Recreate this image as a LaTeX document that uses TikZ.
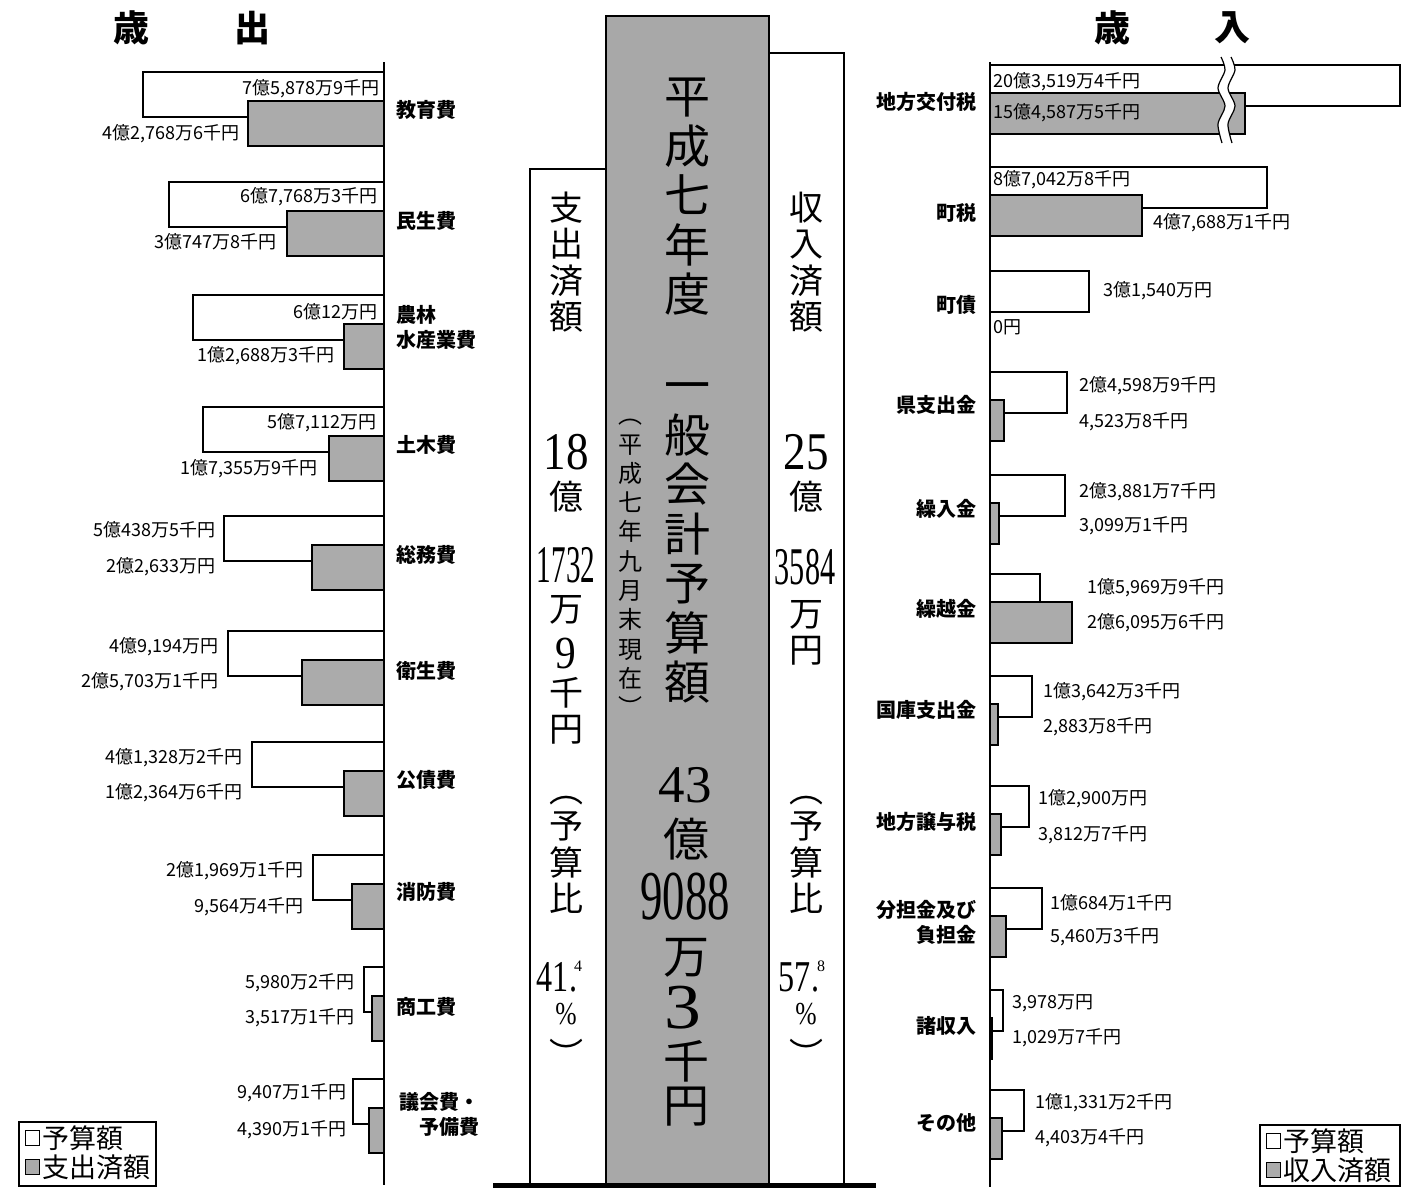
\documentclass[tikz,border=0pt]{standalone}
\usepackage{fontspec}
\newfontfamily\jp{Noto Sans CJK JP}
\newfontfamily\numfont{Liberation Serif}
\definecolor{bargray}{gray}{0.67}
\definecolor{colgray}{gray}{0.66}

\newcommand{\jpfs}[1]{\jp\fontsize{#1}{#1}\selectfont}
\newcommand{\nmfs}[1]{\numfont\fontsize{#1}{#1}\selectfont}

\tikzset{
  budget/.style={draw=black, fill=white, line width=1.6pt},
  spent/.style={draw=black, fill=bargray, line width=1.6pt},
  axisline/.style={line width=1.6pt},
  val/.style={font=\jpfs{18}, inner sep=0pt},
  cat/.style={font=\jp\bfseries\fontsize{20}{25}\selectfont, inner sep=0pt},
  bigcol/.style={font=\jp\fontsize{46}{49.5}\selectfont, inner sep=0pt, align=center},
  midcol/.style={font=\jp\fontsize{34}{36.5}\selectfont, inner sep=0pt, align=center},
  notecol/.style={font=\jp\fontsize{24}{29.3}\selectfont, inner sep=0pt, align=center},
  numtxt/.style={inner sep=0pt},
  legtext/.style={font=\jpfs{27}, inner sep=0pt, anchor=west},
}

\begin{document}
\begin{tikzpicture}[x=1pt, y=-1pt]
\useasboundingbox (0,0) rectangle (1412,1187);

% Titles
\node[font=\jp\bfseries\fontsize{36}{36}\selectfont] (outA) at (131,28) {歳};
\node[font=\jp\bfseries\fontsize{36}{36}\selectfont] (outB) at (252,28) {出};
\node[font=\jp\bfseries\fontsize{36}{36}\selectfont] (inA) at (1112,28) {歳};
\node[font=\jp\bfseries\fontsize{36}{36}\selectfont] (inB) at (1232,28) {入};

% Centre column
\draw[fill=colgray, line width=1.6pt] (606,16) rectangle (769,1185);
\draw[line width=1.6pt] (606,169) -- (530,169) -- (530,1185);
\draw[line width=1.6pt] (769,53) -- (844,53) -- (844,1185);
\draw[line width=5pt] (493,1185) -- (876,1185);

% Axes
\draw[axisline] (384,62) -- (384,1185);
\draw[axisline] (990,62) -- (990,1187);

% Expenditure bars (budget left edge / top / spent left edge)
\foreach \wl/\t/\gl in {143/72/248, 169/182/287, 193/295/344, 203/407/329,
  224/516/312, 228/631/302, 252/742/344, 313/855/352, 364/967/372, 353/1079/369} {
  \draw[budget] (\wl,\t) rectangle (384,\t+45);
  \draw[spent] (\gl,\t+29) rectangle (384,\t+74);
}

% Revenue bars (budget right edge / top / received right edge)
\foreach \wr/\t/\gr in {1400/65/1245, 1267/167/1142, 1089/271/990, 1067/372/1004,
  1065/475/999, 1040/574/1072, 1032/676/998, 1029/786/1001, 1042/888/1006,
  1003/990/992, 1024/1090/1002} {
  \draw[budget] (990,\t) rectangle (\wr,\t+41);
  \draw[spent] (990,\t+28) rectangle (\gr,\t+69);
}

% Break mark on the first revenue bar
\fill[white] plot[smooth] coordinates {(1221,57) (1225,70) (1218,88) (1225,106) (1218,124) (1222,143)}
  -- plot[smooth] coordinates {(1232,143) (1228,124) (1235,106) (1228,88) (1235,70) (1231,57)} -- cycle;
\draw[line width=1.2pt] plot[smooth] coordinates {(1221,57) (1225,70) (1218,88) (1225,106) (1218,124) (1222,143)};
\draw[line width=1.2pt] plot[smooth] coordinates {(1231,57) (1235,70) (1228,88) (1235,106) (1228,124) (1232,143)};

% Expenditure values
\node[val, anchor=east] (eB1) at (380,89) {7億5,878万9千円};
\node[val, anchor=east] (eS1) at (240,134) {4億2,768万6千円};
\node[val, anchor=east] (eB2) at (378,197) {6億7,768万3千円};
\node[val, anchor=east] (eS2) at (277,242) {3億747万8千円};
\node[val, anchor=east] (eB3) at (378,312) {6億12万円};
\node[val, anchor=east] (eS3) at (335,356) {1億2,688万3千円};
\node[val, anchor=east] (eB4) at (377,423) {5億7,112万円};
\node[val, anchor=east] (eS4) at (318,469) {1億7,355万9千円};
\node[val, anchor=east] (eB5) at (216,530) {5億438万5千円};
\node[val, anchor=east] (eS5) at (216,567) {2億2,633万円};
\node[val, anchor=east] (eB6) at (219,647) {4億9,194万円};
\node[val, anchor=east] (eS6) at (219,682) {2億5,703万1千円};
\node[val, anchor=east] (eB7) at (243,758) {4億1,328万2千円};
\node[val, anchor=east] (eS7) at (243,793) {1億2,364万6千円};
\node[val, anchor=east] (eB8) at (304,871) {2億1,969万1千円};
\node[val, anchor=east] (eS8) at (304,907) {9,564万4千円};
\node[val, anchor=east] (eB9) at (355,983) {5,980万2千円};
\node[val, anchor=east] (eS9) at (355,1018) {3,517万1千円};
\node[val, anchor=east] (eB10) at (347,1093) {9,407万1千円};
\node[val, anchor=east] (eS10) at (347,1130) {4,390万1千円};

% Expenditure items
\node[cat, anchor=west] (edu) at (396,110) {教育費};
\node[cat, anchor=west] (wel) at (396,221) {民生費};
\node[cat, anchor=west, align=left] (agr) at (396,327) {農林\\水産業費};
\node[cat, anchor=west] (civ) at (396,445) {土木費};
\node[cat, anchor=west] (gen) at (396,555) {総務費};
\node[cat, anchor=west] (hyg) at (396,671) {衛生費};
\node[cat, anchor=west] (debt) at (396,780) {公債費};
\node[cat, anchor=west] (fire) at (396,892) {消防費};
\node[cat, anchor=west] (com) at (396,1007) {商工費};
\node[cat, anchor=east, align=right] (asm) at (480,1114) {議会費・\\予備費};

% Revenue values
\node[val, anchor=west] (iB1) at (993,82) {20億3,519万4千円};
\node[val, anchor=west] (iS1) at (993,113) {15億4,587万5千円};
\node[val, anchor=west] (iB2) at (993,180) {8億7,042万8千円};
\node[val, anchor=west] (iS2) at (1153,223) {4億7,688万1千円};
\node[val, anchor=west] (iB3) at (1103,291) {3億1,540万円};
\node[val, anchor=west] (iS3) at (993,327) {0円};
\node[val, anchor=west] (iB4) at (1079,386) {2億4,598万9千円};
\node[val, anchor=west] (iS4) at (1079,422) {4,523万8千円};
\node[val, anchor=west] (iB5) at (1079,492) {2億3,881万7千円};
\node[val, anchor=west] (iS5) at (1079,526) {3,099万1千円};
\node[val, anchor=west] (iB6) at (1087,588) {1億5,969万9千円};
\node[val, anchor=west] (iS6) at (1087,623) {2億6,095万6千円};
\node[val, anchor=west] (iB7) at (1043,692) {1億3,642万3千円};
\node[val, anchor=west] (iS7) at (1043,727) {2,883万8千円};
\node[val, anchor=west] (iB8) at (1038,799) {1億2,900万円};
\node[val, anchor=west] (iS8) at (1038,835) {3,812万7千円};
\node[val, anchor=west] (iB9) at (1050,903) {1億684万1千円};
\node[val, anchor=west] (iS9) at (1050,937) {5,460万3千円};
\node[val, anchor=west] (iB10) at (1012,1003) {3,978万円};
\node[val, anchor=west] (iS10) at (1012,1038) {1,029万7千円};
\node[val, anchor=west] (iB11) at (1035,1103) {1億1,331万2千円};
\node[val, anchor=west] (iS11) at (1035,1138) {4,403万4千円};

% Revenue items
\node[cat, anchor=east] (ltax) at (977,102) {地方交付税};
\node[cat, anchor=east] (ttax) at (977,213) {町税};
\node[cat, anchor=east] (bond) at (977,305) {町債};
\node[cat, anchor=east] (pref) at (977,405) {県支出金};
\node[cat, anchor=east] (trin) at (977,509) {繰入金};
\node[cat, anchor=east] (carry) at (977,609) {繰越金};
\node[cat, anchor=east] (nat) at (977,710) {国庫支出金};
\node[cat, anchor=east] (ltrf) at (977,822) {地方譲与税};
\node[cat, anchor=east, align=right] (share) at (977,922) {分担金及び\\負担金};
\node[cat, anchor=east] (misc) at (977,1026) {諸収入};
\node[cat, anchor=east] (other) at (977,1123) {その他};

% Grey column: total budget
\node[bigcol] (year) at (687,197) {平\\成\\七\\年\\度};
\node[bigcol] (title) at (687,543) {一\\般\\会\\計\\予\\算\\額};
\node[notecol] (asof) at (630,568) {︵\\平\\成\\七\\年\\九\\月\\末\\現\\在\\︶};
\node[numtxt, font=\nmfs{53}] (totA) at (685,785) {43};
\node[bigcol] (totB) at (686,839) {億};
\node[numtxt, font=\nmfs{70}] (totC) at (685,897) {\scalebox{0.64}[1]{9088}};
\node[bigcol] (totD) at (686,958) {万};
\node[numtxt, font=\nmfs{64}] (totE) at (683,1008) {\scalebox{1.15}[1]{3}};
\node[bigcol] (totF) at (686,1061) {千};
\node[bigcol] (totG) at (686,1107) {円};

% Left column: spent
\node[midcol] (spA) at (566,262) {支\\出\\済\\額};
\node[numtxt, font=\nmfs{53}] (spB) at (566,452) {\scalebox{0.85}[1]{18}};
\node[midcol] (spC) at (566,497) {億};
\node[numtxt, font=\nmfs{53}] (spD) at (566,565) {\scalebox{0.55}[1]{1732}};
\node[midcol] (spE) at (566,610) {万};
\node[numtxt, font=\nmfs{46}] (spF) at (566,653) {\scalebox{0.9}[1]{9}};
\node[midcol] (spG) at (566,711) {千\\円};
\node[midcol] (spH) at (566,855) {︵\\予\\算\\比};
\node[numtxt, font=\nmfs{44}] (spI) at (557,977) {\scalebox{0.73}[1]{41.}};
\node[numtxt, font=\nmfs{16}] (spJ) at (578,966) {4};
\node[numtxt, font=\nmfs{32}] (spK) at (566,1014) {\scalebox{0.8}[1]{\%}};
\node[midcol] (spL) at (566,1053) {︶};

% Right column: received
\node[midcol] (rcA) at (806,262) {収\\入\\済\\額};
\node[numtxt, font=\nmfs{53}] (rcB) at (806,452) {\scalebox{0.85}[1]{25}};
\node[midcol] (rcC) at (806,497) {億};
\node[numtxt, font=\nmfs{53}] (rcD) at (805,567) {\scalebox{0.57}[1]{3584}};
\node[midcol] (rcE) at (806,633) {万\\円};
\node[midcol] (rcF) at (806,855) {︵\\予\\算\\比};
\node[numtxt, font=\nmfs{44}] (rcG) at (799,977) {\scalebox{0.73}[1]{57.}};
\node[numtxt, font=\nmfs{16}] (rcH) at (821,966) {8};
\node[numtxt, font=\nmfs{32}] (rcI) at (806,1014) {\scalebox{0.8}[1]{\%}};
\node[midcol] (rcJ) at (806,1053) {︶};

% Legends
\draw[line width=1.6pt] (19,1122) rectangle (156,1186);
\draw[budget, line width=1pt] (25,1130) rectangle (39,1145);
\draw[spent, line width=1pt] (25,1159) rectangle (39,1174);
\node[legtext] (lgA) at (42,1138) {予算額};
\node[legtext] (lgB) at (42,1167) {支出済額};

\draw[line width=1.6pt] (1260,1125) rectangle (1400,1186);
\draw[budget, line width=1pt] (1266,1133) rectangle (1280,1148);
\draw[spent, line width=1pt] (1266,1162) rectangle (1280,1177);
\node[legtext] (lgC) at (1283,1141) {予算額};
\node[legtext] (lgD) at (1283,1170) {収入済額};

\end{tikzpicture}
\end{document}
